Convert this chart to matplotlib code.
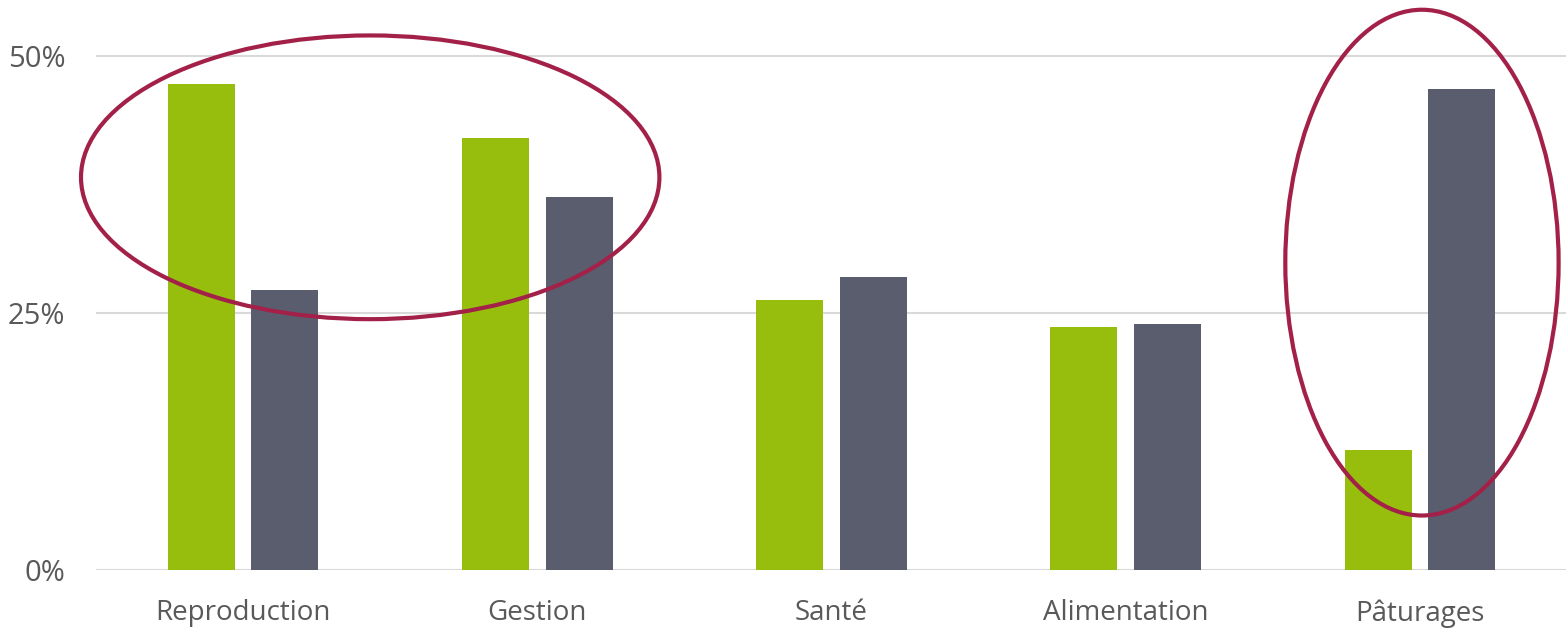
import matplotlib
matplotlib.use("Agg")
import matplotlib.pyplot as plt
from matplotlib.patches import Ellipse
import numpy as np

categories = ["Reproduction", "Gestion", "Santé", "Alimentation", "Pâturages"]
series_green = [47.3, 42.0, 26.3, 23.6, 11.7]
series_gray = [27.2, 36.3, 28.5, 23.9, 46.8]
ytick_values = [0, 25, 50]
ytick_labels = ["0%", "25%", "50%"]

# highlight ellipses: (center_x, center_y, width, height) in data units
ellipse_specs = [(0.432, 38.2, 1.966, 27.6), (4.007, 29.9, 0.929, 49.2)]

plt.rcParams['font.family'] = ['Open Sans', 'DejaVu Sans']

W, H = 1566, 628
fig = plt.figure(figsize=(W / 100, H / 100), dpi=100)
ax = fig.add_axes([96 / W, (628 - 570) / H, (1567 - 96) / W, 570 / H])

x = np.arange(len(categories))
bw = 0.228
off = 0.142
ax.bar(x - off, series_green, width=bw, color="#97BE0D", zorder=2)
ax.bar(x + off, series_gray, width=bw, color="#5A5D6E", zorder=2)

ax.set_xlim(-0.5, len(categories) - 0.5)
ax.set_ylim(0, 570 / 10.28)

ax.set_yticks(ytick_values)
ax.set_yticklabels(ytick_labels)
ax.set_xticks(x)
ax.set_xticklabels(categories)
ax.tick_params(axis='y', length=0, pad=22, labelsize=21, labelcolor="#595959")
ax.tick_params(axis='x', length=0, pad=21, labelsize=20, labelcolor="#595959")

ax.yaxis.grid(True, color="#D9D9D9", linewidth=1.5, zorder=0)
ax.set_axisbelow(True)
for s in ax.spines.values():
    s.set_visible(False)

for cx, cy, w, h in ellipse_specs:
    e = Ellipse((cx, cy), w, h, fill=False, edgecolor="#A32149", linewidth=3.0, zorder=5, clip_on=False)
    ax.add_patch(e)

fig.savefig("out.png", dpi=100)
